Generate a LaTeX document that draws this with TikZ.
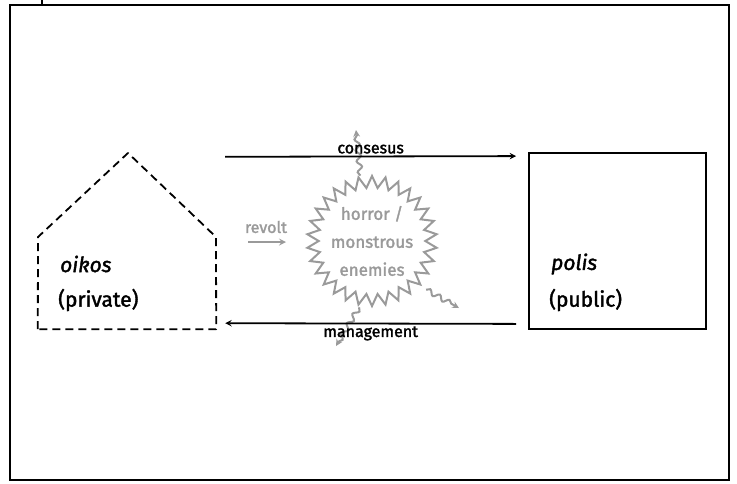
\documentclass[tikz,border=0pt]{standalone}
\usepackage{fontspec}
\setmainfont{Fira Sans}[FakeBold=1.8]
\usepackage{tikz}
\usetikzlibrary{calc,shapes.geometric,decorations.pathmorphing}

\definecolor{horrorgray}{HTML}{9A9A9A}

\tikzset{
  lbl/.style={font=\fontsize{21}{24}\selectfont, anchor=west, inner sep=0pt},
  flowlbl/.style={font=\fontsize{16}{18}\selectfont, inner sep=2pt},
  flow/.style={->, line width=1.8pt},
  grayflow/.style={->, line width=2pt, draw=horrorgray},
  wiggle/.style={grayflow, decorate,
    decoration={snake, amplitude=2.5pt, segment length=11pt, post length=5pt}}
}

\begin{document}
\begin{tikzpicture}[>=stealth, x=1pt, y=-1pt]
    \useasboundingbox (0,0) rectangle (737,483);
    \draw[line width=2.5pt] (10,5) rectangle (729,480);
    \draw[line width=1.5pt] (42,0) -- (42,5);

    % oikos (dashed house)
    \node[minimum width=178pt, minimum height=176pt, inner sep=0pt] (oikos) at (127,241) {};
    \draw[line width=1.8pt, dash pattern=on 8pt off 5pt, line join=round]
          (oikos.south west) -- (38,237) -- (128,153) -- (216,237) -- (oikos.south east) -- cycle;
    \node[lbl] (oikosname) at (60,264) {\itshape oikos};
    \node[lbl] (oikospriv) at (58,300) {(private)};

    % polis
    \node[draw, line width=1.8pt, minimum width=177pt, minimum height=176pt, inner sep=0pt] (polis) at (617.5,241) {};
    \node[lbl] (polisname) at (551,264) {\itshape polis};
    \node[lbl] (polispub) at (549,300) {(public)};

    % horror / monstrous enemies
    \node[star, star points=30, star point ratio=1.22, minimum size=130pt, inner sep=0pt,
          draw=horrorgray, line width=2pt] (horror) at (372,241) {};
    \node[text=horrorgray, align=center, font=\fontsize{17}{28}\selectfont] (horrortxt)
          at (horror.center) {horror /\\monstrous\\enemies};

    % breaking out
    \coordinate (outtop) at (356,130);
    \coordinate (outright) at (459,308);
    \coordinate (outbottom) at (336,346);
    \draw[wiggle] ($(horror.center)!1.06!(horror.100)$) -- (outtop);
    \draw[wiggle] ($(horror.center)!1.08!(horror.-42)$) -- (outright);
    \draw[wiggle] ($(horror.center)!1.04!(horror.-101)$) -- (outbottom);

    \path ([xshift=9pt,yshift=-4pt]oikos.north east)  edge[flow] node[flowlbl, above] (consesus) {consesus}
                                                        ([xshift=-12pt,yshift=-4pt]polis.north west)
          ([xshift=-12pt,yshift=6pt]polis.south west) edge[flow] node[flowlbl, below] (management) {management}
                                                        ([xshift=9pt,yshift=6pt]oikos.south east);

    % revolt
    \node[flowlbl, text=horrorgray] (revolt) at (266,227) {revolt};
    \coordinate (revoltend) at (286,242);
    \draw[grayflow] ([xshift=-38pt]revoltend) -- (revoltend);
\end{tikzpicture}
\end{document}
